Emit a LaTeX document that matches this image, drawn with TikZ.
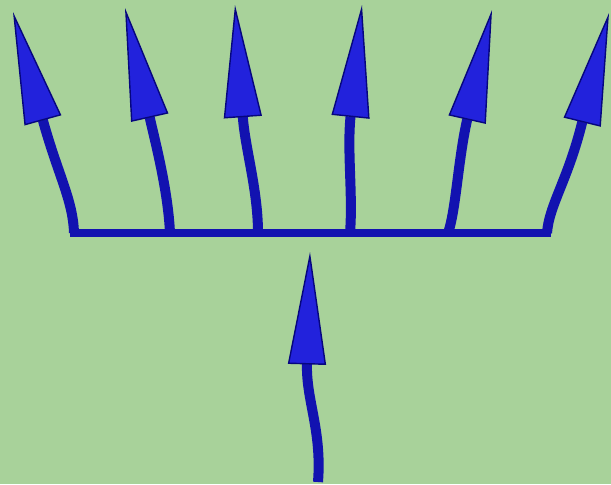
\documentclass[tikz,border=0pt]{standalone}
\usetikzlibrary{arrows.meta}
\definecolor{cbg}{HTML}{A8D29A}
\definecolor{cstem}{HTML}{1212B0}
\definecolor{chead}{HTML}{2222DC}
\definecolor{cedge}{HTML}{06067E}
\tikzset{
  every picture/.style={x=0.02cm, y=-0.02cm},
  stem/.style={draw=cstem, line width=0.2cm,
    -{Triangle[length=2.25cm, width=0.76cm, line width=0.8pt, fill=chead, color=cedge]}},
  bar/.style={draw=cstem, line width=0.16cm},
}

\begin{document}
\begin{tikzpicture}
  \fill[cbg] (0,0) rectangle (611,484);
  \useasboundingbox (0,0) rectangle (611,484);
  % feet on the bar
  \coordinate (f1) at (74,233);
  \coordinate (f2) at (170,233);
  \coordinate (f3) at (258,233);
  \coordinate (f4) at (350,233);
  \coordinate (f5) at (448,233);
  \coordinate (f6) at (547,233);
  % tips
  \coordinate (t1) at (13,12);
  \coordinate (t2) at (125,8);
  \coordinate (t3) at (235,5);
  \coordinate (t4) at (362,5);
  \coordinate (t5) at (492,10);
  \coordinate (t6) at (609,13);
  % input arrow
  \coordinate (b0) at (318,482);
  \coordinate (t0) at (310,252);
  \draw[bar] (70,233) -- (551,233);
  \draw[stem] (f1) .. controls (73,200) and (58,175) .. (t1);
  \draw[stem] (f2) .. controls (168,190) and (155,141) .. (t2);
  \draw[stem] (f3) .. controls (258,190) and (245,148) .. (t3);
  \draw[stem] (f4) .. controls (353,195) and (347,151) .. (t4);
  \draw[stem] (f5) .. controls (456,210) and (458,160) .. (t5);
  \draw[stem] (f6) .. controls (549,205) and (568,180) .. (t6);
  \draw[stem] (b0) .. controls (322,430) and (306,400) .. (t0);
\end{tikzpicture}
\end{document}
